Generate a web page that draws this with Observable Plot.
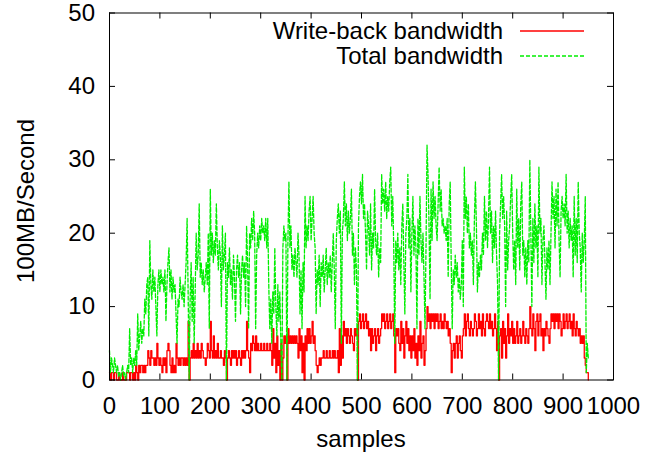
<!DOCTYPE html>
<html><head><meta charset="utf-8">
<script src="https://cdn.jsdelivr.net/npm/d3@7"></script>
<script src="https://cdn.jsdelivr.net/npm/@observablehq/plot@0.6"></script>
<style>
body{margin:0;background:#fff;}
#chart{width:647px;height:459px;}
svg{font-family:"Liberation Sans",Arial,Helvetica,sans-serif;}
</style></head><body><div id="chart"></div>
<script>
// sample index of value i is i * sampleStep
const sampleStep = 2;

const totalBandwidth = [
4,1,3,2,1,3,2,1,2,0.5,1,0,1,2,0.5,1,0,1,2,1,7,2,3,1,3,
2,4,2,9,4,6,8,5,7,6,11,9,13,14,6,19,13,11,15,12,14,10,6,13,15,
12,15,13,14,12,15,8,13,16,18,12,15,11,14,12,13,9,5,11,10,14,12,11,13,10,
13,16,22,12,0,11,16,8,14,5,12,20,15,17,24,14,16,13,15,12,14,16,13,20,7,
26,17,20,16,19,17,24,18,15,19,17,10,21,15,17,20,0,16,14,18,13,15,11,17,14,
8,15,17,14,16,9,15,17,14,16,10,21,16,7,20,18,22,19,23,20,7,17,20,18,21,
19,22,20,21,19,22,18,22,13,7,11,5,12,9,18,10,6,13,8,12,5,0,18,21,19,
20,0,19,27,18,21,15,17,14,18,16,14,20,17,9,15,7,16,12,25,18,21,19,23,25,
19,22,25,20,18,9,15,13,17,10,16,14,17,12,15,18,13,16,14,17,12,16,20,15,7,
19,22,24,20,23,5,20,22,27,21,24,19,23,20,22,26,17,20,13,18,15,0,21,25,27,
24,28,22,24,20,15,23,21,17,24,15,20,18,26,19,17,20,14,18,16,28,24,26,23,27,
22,25,23,27,29,21,25,18,5,19,16,20,15,18,13,21,24,16,9,20,22,28,18,22,12,
20,25,17,21,18,7,22,17,25,19,16,20,14,7,18,32,28,21,11,26,19,27,22,25,21,
19,24,29,23,26,21,22,20,21,19,22,14,24,27,16,7,15,13,17,14,16,12,14,11,13,
19,10,29,22,25,20,24,18,20,17,19,13,22,27,21,12,16,14,17,15,20,17,25,19,23,
18,22,29,20,23,16,21,18,23,17,13,0,20,24,28,22,25,21,10,23,15,19,21,25,28,
20,15,19,13,26,18,22,15,24,27,17,19,14,18,13,19,16,30,20,10,22,16,24,18,21,
14,29,20,22,13,19,21,16,11,18,15,19,13,20,27,22,25,18,26,21,27,19,14,23,25,
22,24,21,28,20,23,18,22,19,21,14,25,17,22,16,27,20,18,12,20,16,19,25,1,5,3
];

const writeBackBandwidth = [
1,0,1,1,0,1,1,0,0,1,0,0,0,1,0,0,0,1,1,1,0,1,1,0,1,
0,2,1,0,2,1,2,2,1,2,1,2,2,4,3,2,4,3,3,2,3,2,5,3,2,
3,2,1,3,2,3,1,4,5,4,2,1,3,1,2,1,5,3,2,3,2,3,3,2,3,
2,3,2,8,0,3,4,3,5,3,4,3,5,3,4,3,5,4,3,3,2,3,5,4,3,
8,4,3,6,3,4,3,5,3,3,4,3,3,2,4,3,0,3,4,3,2,4,3,4,3,
4,2,3,4,3,2,4,3,4,3,4,8,4,3,1,5,4,6,5,4,6,4,5,4,4,
5,4,4,5,4,4,5,4,4,5,4,2,7,3,5,1,6,2,4,0,5,0,3,6,5,
6,0,7,5,6,5,6,5,6,5,6,5,3,7,4,6,1,5,0,6,4,7,5,7,5,
6,8,5,6,4,2,1,2,3,2,3,3,4,3,3,4,3,3,4,3,3,4,3,4,3,
3,4,1,7,2,6,3,8,6,7,5,7,6,5,7,6,5,4,7,6,7,0,8,9,7,
8,9,7,8,9,7,8,6,7,4,7,5,6,7,4,6,7,5,6,7,9,8,9,7,8,
9,7,8,9,7,8,9,6,1,7,6,7,5,4,8,5,7,3,6,8,5,7,4,6,3,
6,4,7,3,5,2,6,4,8,3,5,6,2,4,7,10,8,9,7,9,8,9,7,9,8,
9,7,8,9,7,8,7,9,8,7,8,6,7,5,1,4,5,3,5,6,3,5,6,4,3,
6,7,9,6,8,9,7,6,8,7,6,7,9,8,6,7,9,7,8,6,9,7,6,8,9,
8,7,9,7,8,6,7,9,7,4,8,0,6,7,3,8,5,7,3,6,9,5,7,6,8,
5,7,5,6,8,5,6,7,5,6,8,6,5,7,6,5,7,10,7,6,9,7,4,8,9,
6,8,9,6,7,4,7,6,8,7,6,5,7,9,8,9,7,9,8,9,7,9,8,6,7,
9,7,8,9,7,8,9,7,8,6,9,7,6,8,7,6,7,5,6,5,6,3,2,1,1,0
];

const xTicks = [0,100,200,300,400,500,600,700,800,900,1000];
const yTicks = [0,10,20,30,40,50];
const seriesNames = ["Write-back bandwidth", "Total bandwidth"];
const seriesColors = ["#ff0000", "#00ee00"];
const xTitle = "samples";
const yTitle = "100MB/Second";

const W = 647, H = 459;
const mL = 109, mR = 34, mT = 12.5, mB = 79.5;
const plotW = W - mL - mR, plotH = H - mT - mB;
const FONT = "24px";

const wb = writeBackBandwidth.map((v, i) => ({sample: i * sampleStep, value: v}));
const tot = totalBandwidth.map((v, i) => ({sample: i * sampleStep, value: v}));

const svg = Plot.plot({
  width: W, height: H,
  marginLeft: mL, marginRight: mR, marginTop: mT, marginBottom: mB,
  style: {fontFamily: '"Liberation Sans", Arial, sans-serif', fontSize: FONT, color: "#000", background: "#fff", overflow: "visible"},
  x: {domain: [0, 1000]},
  y: {domain: [0, 50]},
  marks: [
    Plot.line(wb, {x: "sample", y: "value", stroke: seriesColors[0], strokeWidth: 1.3, curve: "step-after"}),
    Plot.line(tot, {x: "sample", y: "value", stroke: seriesColors[1], strokeWidth: 1.3, strokeDasharray: "4,2"}),
    Plot.ruleX(xTicks, {x: d => d, insetTop: plotH - 6, stroke: "#000"}),
    Plot.ruleX(xTicks, {x: d => d, insetBottom: plotH - 6, stroke: "#000"}),
    Plot.ruleY(yTicks, {y: d => d, insetRight: plotW - 6, stroke: "#000"}),
    Plot.ruleY(yTicks, {y: d => d, insetLeft: plotW - 6, stroke: "#000"}),
    Plot.frame({stroke: "#000"}),
    Plot.axisX({ticks: xTicks, tickSize: 0, tickPadding: 16.5, label: null, fontSize: FONT, tickFormat: d => String(d)}),
    Plot.axisY({ticks: yTicks, tickSize: 0, tickPadding: 14.5, label: null, fontSize: FONT, tickFormat: d => String(d)})
  ]
});
document.getElementById("chart").appendChild(svg);

// axis titles and legend
const s = d3.select(svg);
s.append("text").attr("x", (mL + W - mR) / 2).attr("y", 447)
  .attr("text-anchor", "middle").attr("font-size", FONT).attr("fill", "#000").text(xTitle);
s.append("text").attr("transform", "translate(34,201) rotate(-90)")
  .attr("text-anchor", "middle").attr("font-size", FONT).attr("fill", "#000").text(yTitle);

const legendY = [39, 64];
seriesNames.forEach((name, i) => {
  s.append("text").attr("x", 503).attr("y", legendY[i])
    .attr("text-anchor", "end").attr("font-size", FONT).attr("fill", "#000").text(name);
  s.append("line").attr("x1", 520).attr("x2", 584)
    .attr("y1", legendY[i] - 8).attr("y2", legendY[i] - 8)
    .attr("stroke", seriesColors[i]).attr("stroke-width", 1.3)
    .attr("stroke-dasharray", i === 1 ? "4,2" : null);
});
</script>
</body></html>
